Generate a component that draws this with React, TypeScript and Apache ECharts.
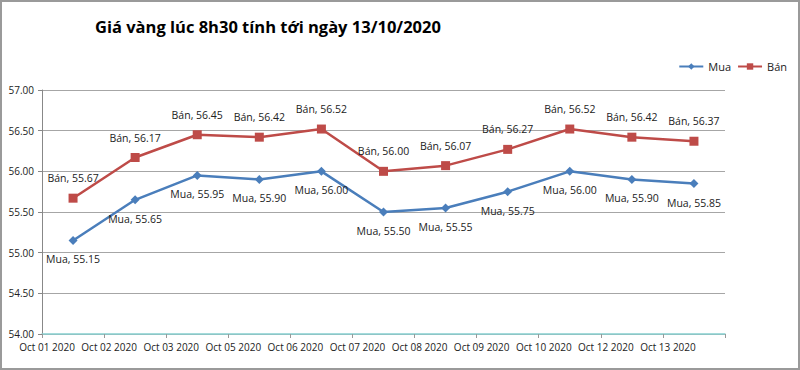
import React, { useEffect, useRef } from "react";
import * as echarts from "echarts";

const categories = [
  "Oct 01 2020", "Oct 02 2020", "Oct 03 2020", "Oct 05 2020", "Oct 06 2020", "Oct 07 2020",
  "Oct 08 2020", "Oct 09 2020", "Oct 10 2020", "Oct 12 2020", "Oct 13 2020",
];
const muaValues = [55.15, 55.65, 55.95, 55.9, 56.0, 55.5, 55.55, 55.75, 56.0, 55.9, 55.85];
const banValues = [55.67, 56.17, 56.45, 56.42, 56.52, 56.0, 56.07, 56.27, 56.52, 56.42, 56.37];
const titleText = "Giá vàng lúc 8h30 tính tới ngày 13/10/2020";

const FONT = "'Open Sans', 'Noto Sans', sans-serif";

export default function App() {
  const ref = useRef<HTMLDivElement>(null);
  useEffect(() => {
    if (!ref.current) return;
    const chart = echarts.init(ref.current, undefined, { renderer: "svg" });
    chart.setOption({
      animation: false,
      backgroundColor: "#ffffff",
      title: {
        text: titleText,
        left: 88,
        top: 11,
        textStyle: { fontFamily: FONT, fontSize: 16.5, fontWeight: "bold", color: "#000" },
      },
      legend: {
        right: 6,
        top: 54,
        itemWidth: 24,
        itemHeight: 8,
        itemGap: 6,
        textStyle: { fontFamily: FONT, fontSize: 11, color: "#222" },
        data: ["Mua", "Bán"],
      },
      grid: { left: 40, right: 73, top: 88, bottom: 34, containLabel: false },
      xAxis: {
        type: "category",
        data: categories,
        boundaryGap: true,
        axisLine: { lineStyle: { color: "#86cfd0", width: 1.5 } },
        axisTick: { show: true, lineStyle: { color: "#999" }, length: 4, inside: false },
        axisLabel: {
          fontFamily: FONT,
          fontSize: 10,
          color: "#222",
          margin: 8,
          padding: [0, 52, 0, 0],
          interval: 0,
        },
      },
      yAxis: {
        type: "value",
        min: 54,
        max: 57,
        interval: 0.5,
        axisLine: { show: true, lineStyle: { color: "#888" } },
        axisTick: { show: true, length: 4, lineStyle: { color: "#888" } },
        axisLabel: {
          fontFamily: FONT,
          fontSize: 10,
          color: "#222",
          formatter: (v: number) => v.toFixed(2),
        },
        splitLine: { lineStyle: { color: "#a6a6a6", width: 1 } },
      },
      series: [
        {
          name: "Mua",
          type: "line",
          data: muaValues,
          symbol: "diamond",
          symbolSize: 9,
          lineStyle: { color: "#4a7ebb", width: 2.5 },
          itemStyle: { color: "#4a7ebb" },
          label: {
            show: true,
            position: "bottom",
            distance: 9,
            fontFamily: FONT,
            fontSize: 10.5,
            color: "#222",
            formatter: (p: any) => `Mua, ${Number(p.value).toFixed(2)}`,
          },
        },
        {
          name: "Bán",
          type: "line",
          data: banValues,
          symbol: "rect",
          symbolSize: 9,
          lineStyle: { color: "#be4b48", width: 2.5 },
          itemStyle: { color: "#be4b48" },
          label: {
            show: true,
            position: "top",
            distance: 10,
            fontFamily: FONT,
            fontSize: 10.5,
            color: "#222",
            formatter: (p: any) => `Bán, ${Number(p.value).toFixed(2)}`,
          },
        },
      ],
    });
    return () => chart.dispose();
  }, []);
  return (
    <div
      style={{
        position: "fixed",
        left: 0,
        top: 0,
        width: 800,
        height: 370,
        boxSizing: "border-box",
        border: "2px solid #9a9a9a",
        background: "#fff",
      }}
    >
      <div ref={ref} style={{ width: 796, height: 366 }} />
    </div>
  );
}
